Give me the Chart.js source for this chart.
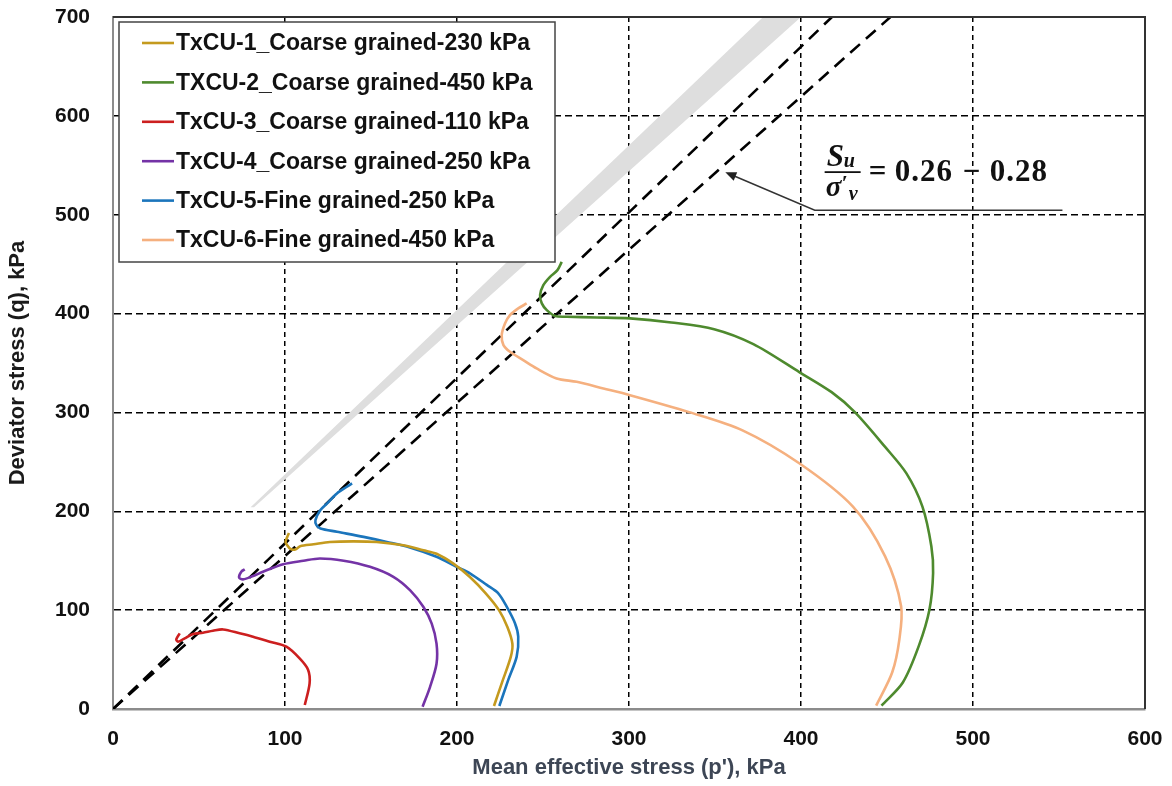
<!DOCTYPE html>
<html>
<head>
<meta charset="utf-8">
<script src="https://cdn.jsdelivr.net/npm/chart.js@4.4.1/dist/chart.umd.min.js"></script>
<style>
  html, body { margin: 0; padding: 0; background: #fff; }
  #wrap { position: relative; width: 1172px; height: 786px; }
</style>
</head>
<body>
<div id="wrap"><canvas id="stressPath"></canvas></div>
<script>
// Stress paths: p' (kPa) and q (kPa), from start of shearing to end
const tx1P = [221.5, 226.0, 231.3, 232.2, 229.3, 224.4, 216.7, 207.5, 197.9, 188.1, 180.5, 168.8, 153.3, 139.8, 126.1, 116.6, 108.8, 105.9, 103.1, 101.3, 100.3, 101.3, 102.3];
const tx1Q = [3, 26, 53, 66, 83, 100, 117, 133.5, 147, 157, 160.5, 165.6, 169, 169.6, 169, 166.6, 164.6, 161.3, 161.9, 165.6, 169, 174, 178];

const tx2P = [446.8, 459.2, 468.5, 474.7, 476.8, 475.8, 470.6, 461.3, 448.9, 431.3, 417.8, 399.2, 372.3, 349.5, 324.6, 300.6, 281.2, 263.8, 257.1, 252.2, 249.3, 248.3, 250.2, 254.1, 258.4, 260.9];
const tx2Q = [3.4, 26.8, 63.8, 100.7, 137.6, 164.4, 204.7, 238.3, 265.1, 300.3, 320.5, 340.6, 369.1, 384.2, 391.0, 395.1, 396.1, 396.8, 397.5, 403.5, 410.3, 418.7, 428.8, 437.2, 443.9, 452.3];

const tx3P = [111.5, 114.3, 113.4, 108.5, 100.8, 91.1, 81.4, 73.6, 64.0, 58.1, 52.3, 46.5, 41.7, 37.8, 36.8, 38.8];
const tx3Q = [4, 26, 39.8, 51.2, 63, 68.1, 73.1, 76.6, 80.5, 79.2, 77.2, 75.8, 71.5, 68.1, 70.5, 76.6];

const tx4P = [180.0, 184.3, 188.1, 188.1, 185.3, 180.5, 172.8, 163.0, 149.4, 134.1, 120.3, 110.7, 99.0, 87.2, 81.4, 75.6, 73.3, 74.6, 76.6];
const tx4Q = [2.3, 22.2, 45.8, 66.1, 86.3, 103.2, 120, 133.7, 143.8, 150, 152.3, 150, 146.5, 138.9, 134.5, 131.1, 133.1, 138.9, 141.3];

const tx5P = [224.6, 229.8, 234.7, 235.6, 233.7, 228.9, 224.0, 217.3, 207.5, 199.8, 188.1, 172.6, 159.2, 145.7, 130.2, 120.6, 118.3, 117.7, 120.6, 124.5, 130.2, 136.0, 139.0];
const tx5Q = [3, 29.4, 53, 73.2, 86.7, 103.5, 117, 125.5, 137.3, 143.8, 154, 163.4, 169, 174.1, 179.3, 182.6, 186, 191.1, 201.2, 208, 218.1, 224.8, 228.2];

const tx6P = [443.7, 453.0, 457.2, 458.2, 448.9, 430.2, 399.2, 366.0, 335.0, 300.6, 285.1, 269.6, 257.9, 246.3, 238.5, 230.8, 227.0, 226.0, 227.9, 230.8, 235.6, 240.5];
const tx6Q = [3.4, 36.9, 70.5, 104, 154.4, 204.7, 248.3, 281.9, 300.3, 317.5, 324.3, 331, 334.4, 344.5, 352.9, 361.3, 368.1, 378.2, 390, 398.4, 405.2, 410.2];

const seriesNames = [
    "TxCU-1_Coarse grained-230 kPa",
    "TXCU-2_Coarse grained-450 kPa",
    "TxCU-3_Coarse grained-110 kPa",
    "TxCU-4_Coarse grained-250 kPa",
    "TxCU-5-Fine grained-250 kPa",
    "TxCU-6-Fine grained-450 kPa"
];
const seriesColors = ["#C49A1E", "#4E8A2E", "#CC1F1F", "#7433A6", "#1B75BC", "#F5B07F"];

// the two dashed lines from the origin (end points at the top of the plot)
const lineUpperP = [0, 418];
const lineUpperQ = [0, 700];
const lineLowerP = [0, 452];
const lineLowerQ = [0, 700];

// grey band
const bandP = [80, 378, 400, 82, 80];
const bandQ = [204, 700, 700, 204, 204];

// arrow to the lower line and the ratio label
const arrowP = [356, 408, 552];
const arrowQ = [543, 504.5, 504.5];
const labelAt = [412, 544];

const xTicks = [0, 100, 200, 300, 400, 500, 600];
const yTicks = [0, 100, 200, 300, 400, 500, 600, 700];

const sans = "'Liberation Sans', Arial, sans-serif";
const serif = "'Liberation Serif', 'Times New Roman', serif";

const toPoints = (ps, qs) => ps.map((p, i) => ({ x: p, y: qs[i] }));

const curves = [[tx1P, tx1Q], [tx2P, tx2Q], [tx3P, tx3Q], [tx4P, tx4Q], [tx5P, tx5Q], [tx6P, tx6Q]];

const datasets = curves.map(([ps, qs], i) => ({
    label: seriesNames[i],
    data: toPoints(ps, qs),
    borderColor: seriesColors[i],
    borderWidth: 2.6,
    tension: 0.3,
    pointRadius: 0,
    showLine: true,
    fill: false
}));

datasets.push({
    label: "upper",
    data: toPoints(lineUpperP, lineUpperQ),
    borderColor: "#000",
    borderWidth: 2.6,
    borderDash: [13, 8],
    pointRadius: 0,
    showLine: true,
    fill: false
});

datasets.push({
    label: "lower",
    data: toPoints(lineLowerP, lineLowerQ),
    borderColor: "#000",
    borderWidth: 2.6,
    borderDash: [13, 8],
    pointRadius: 0,
    showLine: true,
    fill: false
});

datasets.push({
    label: "band",
    data: toPoints(bandP, bandQ),
    borderWidth: 0,
    borderColor: "rgba(0,0,0,0)",
    backgroundColor: "#dedede",
    pointRadius: 0,
    showLine: true,
    fill: "shape"
});

const hideEdges = (max) => (ctx) => {
    const v = ctx.tick ? ctx.tick.value : 0;
    return (v > 0 && v < max) ? "#000" : "rgba(0,0,0,0)";
};

// frame, arrow, ratio label and the boxed legend
const overlay = {
    id: "overlay",
    afterDatasetsDraw(chart) {
        const { ctx, chartArea: a, scales: { x, y } } = chart;
        ctx.save();

        ctx.strokeStyle = "#333";
        ctx.lineWidth = 2;
        ctx.beginPath();
        ctx.moveTo(a.left, a.top);
        ctx.lineTo(a.right, a.top);
        ctx.lineTo(a.right, a.bottom);
        ctx.stroke();

        // arrow
        const pts = arrowP.map((p, i) => [x.getPixelForValue(p), y.getPixelForValue(arrowQ[i])]);
        ctx.strokeStyle = "#333";
        ctx.lineWidth = 1.5;
        ctx.beginPath();
        ctx.moveTo(pts[2][0], pts[2][1]);
        ctx.lineTo(pts[1][0], pts[1][1]);
        ctx.lineTo(pts[0][0] + 6, pts[0][1] + 2.5);
        ctx.stroke();
        const ang = Math.atan2(pts[0][1] - pts[1][1], pts[0][0] - pts[1][0]);
        ctx.fillStyle = "#222";
        ctx.beginPath();
        ctx.moveTo(pts[0][0], pts[0][1]);
        ctx.lineTo(pts[0][0] - 11 * Math.cos(ang) + 4.5 * Math.sin(ang), pts[0][1] - 11 * Math.sin(ang) - 4.5 * Math.cos(ang));
        ctx.lineTo(pts[0][0] - 11 * Math.cos(ang) - 4.5 * Math.sin(ang), pts[0][1] - 11 * Math.sin(ang) + 4.5 * Math.cos(ang));
        ctx.closePath();
        ctx.fill();

        // ratio label
        const lx = x.getPixelForValue(labelAt[0]);
        const ly = y.getPixelForValue(labelAt[1]);
        ctx.fillStyle = "#111";
        ctx.textBaseline = "alphabetic";
        ctx.textAlign = "left";
        ctx.font = `italic bold 31px ${serif}`;
        ctx.fillText("S", lx + 5, ly - 5);
        ctx.font = `italic bold 20px ${serif}`;
        ctx.fillText("u", lx + 22, ly - 4);
        ctx.fillRect(lx + 3, ly, 36, 1.8);
        ctx.font = `italic bold 29px ${serif}`;
        ctx.fillText("σ", lx + 4, ly + 25);
        ctx.font = `bold 22px ${serif}`;
        ctx.fillText("′", lx + 20, ly + 19);
        ctx.font = `italic bold 20px ${serif}`;
        ctx.fillText("v", lx + 27, ly + 29);
        ctx.font = `bold 31px ${serif}`;
        ctx.textBaseline = "middle";
        if ("letterSpacing" in ctx) ctx.letterSpacing = "1px";
        ctx.fillText("=", lx + 47, ly + 2);
        ctx.fillText("0.26", lx + 73, ly + 2);
        ctx.fillText("−", lx + 141, ly + 2);
        ctx.fillText("0.28", lx + 168, ly + 2);
        if ("letterSpacing" in ctx) ctx.letterSpacing = "0px";

        // legend
        const bx = a.left + 6, by = a.top + 5, bw = 436, bh = 240;
        ctx.fillStyle = "#fff";
        ctx.fillRect(bx, by, bw, bh);
        ctx.strokeStyle = "#444";
        ctx.lineWidth = 1.5;
        ctx.strokeRect(bx, by, bw, bh);
        ctx.font = `bold 23px ${sans}`;
        ctx.textBaseline = "middle";
        seriesNames.forEach((name, i) => {
            const ry = by + 21 + i * 39.4;
            ctx.strokeStyle = seriesColors[i];
            ctx.lineWidth = 2.6;
            ctx.beginPath();
            ctx.moveTo(bx + 23, ry);
            ctx.lineTo(bx + 55, ry);
            ctx.stroke();
            ctx.fillStyle = "#111";
            ctx.fillText(name, bx + 57, ry + 1);
        });

        ctx.restore();
    }
};

new Chart(document.getElementById("stressPath"), {
    type: "scatter",
    data: { datasets },
    plugins: [overlay],
    options: {
        responsive: true,
        maintainAspectRatio: false,
        animation: false,
        layout: { padding: { top: 17, right: 27, bottom: 0, left: 0 } },
        plugins: {
            legend: { display: false },
            tooltip: { enabled: false }
        },
        scales: {
            x: {
                type: "linear",
                min: 0,
                max: 600,
                afterBuildTicks(scale) { scale.ticks = xTicks.map(v => ({ value: v })); },
                afterFit(scale) {
                    scale.height = 77;
                    scale.paddingLeft = 0;
                    scale.paddingRight = 0;
                },
                ticks: {
                    color: "#111",
                    padding: 18,
                    font: { family: sans, size: 21, weight: "bold" }
                },
                grid: { color: hideEdges(600), lineWidth: 1.5, drawTicks: false },
                border: { color: "#8c8c8c", width: 2.5, dash: [5, 4] },
                title: {
                    display: true,
                    text: "Mean effective stress (p'), kPa",
                    color: "#3d4655",
                    font: { family: sans, size: 22, weight: "bold" },
                    padding: { top: 0, bottom: 5 }
                }
            },
            y: {
                type: "linear",
                min: 0,
                max: 700,
                afterBuildTicks(scale) { scale.ticks = yTicks.map(v => ({ value: v })); },
                afterFit(scale) {
                    scale.width = 113;
                    scale.paddingTop = 0;
                    scale.paddingBottom = 0;
                },
                ticks: {
                    color: "#111",
                    padding: 23,
                    font: { family: sans, size: 21, weight: "bold" }
                },
                grid: { color: hideEdges(700), lineWidth: 1.5, drawTicks: false },
                border: { color: "#8c8c8c", width: 2, dash: [7, 4] },
                title: {
                    display: true,
                    text: "Deviator stress (q), kPa",
                    color: "#1a1a1a",
                    font: { family: sans, size: 22, weight: "bold" },
                    padding: { top: 5, bottom: 0 }
                }
            }
        }
    }
});
</script>
</body>
</html>
